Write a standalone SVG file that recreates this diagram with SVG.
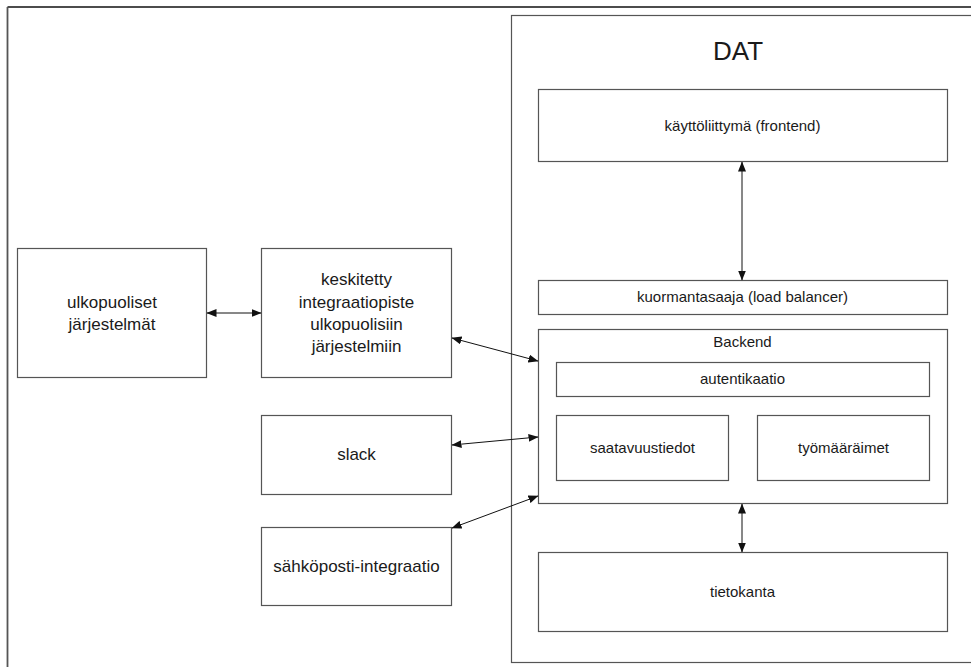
<svg xmlns="http://www.w3.org/2000/svg" width="971" height="667" viewBox="0 0 971 667">
<style>
.box{fill:#fff;stroke:#555;stroke-width:1.2}
.t{font-family:"Liberation Sans",Arial,sans-serif;fill:#1a1a1a;text-anchor:middle}
.l{font-size:17px}
.r{font-size:15px}
.c{stroke:#111;stroke-width:1;fill:none;marker-start:url(#ah);marker-end:url(#ah)}
</style>
<defs>
<marker id="ah" viewBox="0 0 10 8" refX="9.5" refY="4" markerWidth="10" markerHeight="8" markerUnits="userSpaceOnUse" orient="auto-start-reverse">
<path d="M0,0 L10,4 L0,8 Z" fill="#111"/>
</marker>
</defs>
<rect width="971" height="667" fill="#fff"/>
<g id="frame">
<line x1="7.5" y1="7" x2="971" y2="7" stroke="#111" stroke-width="1.6"/>
<line x1="7.5" y1="7" x2="7.5" y2="667" stroke="#555" stroke-width="1.8"/>
</g>
<g id="dat">
<rect x="511.5" y="15.5" width="480" height="647" fill="#fff" stroke="#555" stroke-width="1.2"/>
<text class="t" x="738" y="60" font-size="26">DAT</text>
</g>
<g id="frontend">
<rect class="box" x="538.5" y="89.5" width="409" height="72"/>
<text class="t r" x="742.5" y="131">käyttöliittymä (frontend)</text>
</g>
<g id="loadbalancer">
<rect class="box" x="538.5" y="280.5" width="409" height="34"/>
<text class="t r" x="742.5" y="302">kuormantasaaja (load balancer)</text>
</g>
<g id="backend">
<rect class="box" x="538.5" y="329.5" width="409" height="174"/>
<text class="t r" x="742.5" y="347">Backend</text>
</g>
<g id="autentikaatio">
<rect class="box" x="556.5" y="362.5" width="373" height="34"/>
<text class="t r" x="742.5" y="384">autentikaatio</text>
</g>
<g id="saatavuustiedot">
<rect class="box" x="556.5" y="415.5" width="172" height="65"/>
<text class="t r" x="642.5" y="453">saatavuustiedot</text>
</g>
<g id="tyomaaraimet">
<rect class="box" x="757.5" y="415.5" width="172" height="65"/>
<text class="t r" x="843.5" y="453">työmääräimet</text>
</g>
<g id="tietokanta">
<rect class="box" x="538.5" y="552.5" width="409" height="79"/>
<text class="t r" x="742.5" y="597">tietokanta</text>
</g>
<g id="ulkopuoliset">
<rect class="box" x="17.5" y="248.5" width="189" height="129"/>
<text class="t l" x="112" y="308">ulkopuoliset</text>
<text class="t l" x="112" y="330">järjestelmät</text>
</g>
<g id="keskitetty">
<rect class="box" x="261.5" y="248.5" width="190" height="129"/>
<text class="t l" x="356.5" y="285">keskitetty</text>
<text class="t l" x="356.5" y="308">integraatiopiste</text>
<text class="t l" x="356.5" y="330">ulkopuolisiin</text>
<text class="t l" x="356.5" y="352">järjestelmiin</text>
</g>
<g id="slack">
<rect class="box" x="261.5" y="415.5" width="190" height="79"/>
<text class="t l" x="356.5" y="460">slack</text>
</g>
<g id="sahkoposti">
<rect class="box" x="261.5" y="527.5" width="190" height="78"/>
<text class="t l" x="356.5" y="572">sähköposti-integraatio</text>
</g>
<g id="connectors">
<line class="c" x1="207" y1="313" x2="261" y2="313"/>
<line class="c" x1="452" y1="338" x2="538" y2="361"/>
<line class="c" x1="452" y1="445" x2="538" y2="437"/>
<line class="c" x1="452" y1="528" x2="538" y2="496"/>
<line class="c" x1="742" y1="162" x2="742" y2="280"/>
<line class="c" x1="742" y1="504" x2="742" y2="552"/>
</g>
</svg>
